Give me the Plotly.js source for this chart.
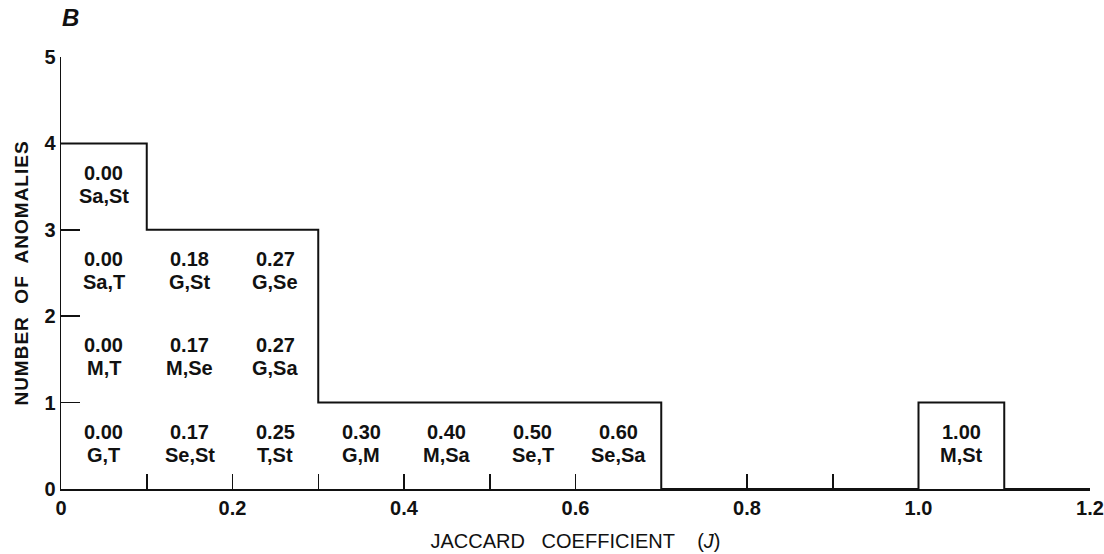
<!DOCTYPE html>
<html>
<head>
<meta charset="utf-8">
<script src="https://cdn.plot.ly/plotly-3.0.1.min.js"></script>
<style>
html,body{margin:0;padding:0;background:#fff;}
#chart{width:1104px;height:554px;}
.ytitle{letter-spacing:1px;}
</style>
</head>
<body>
<div id="chart"></div>
<script>
// Jaccard coefficients of each pair (stacked bottom-up within each 0.1 bin)
const coefLabels = ['0.00','0.00','0.00','0.00','0.17','0.17','0.18','0.25','0.27','0.27','0.30','0.40','0.50','0.60','1.00'];
const pairLabels = ['G,T','M,T','Sa,T','Sa,St','Se,St','M,Se','G,St','T,St','G,Sa','G,Se','G,M','M,Sa','Se,T','Se,Sa','M,St'];
const binWidth = 0.1;
const binEdges = [0,0.1,0.2,0.3,0.4,0.5,0.6,0.7,0.8,0.9,1.0,1.1,1.2];
const xTickVals = [0,0.1,0.2,0.3,0.4,0.5,0.6,0.7,0.8,0.9,1.0,1.1,1.2];
const xTickText = ['0','','0.2','','0.4','','0.6','','0.8','','1.0','','1.2'];
const yTickVals = [0,1,2,3,4,5];

const fontFam = 'Liberation Sans, Arial, sans-serif';
const cellFont = {family: fontFam, size: 20, color: '#111', weight: 'bold'};
const NB = '\u00A0';

// histogram counts from the coefficients
const nBins = binEdges.length - 1;
const counts = new Array(nBins).fill(0);
const annotations = [];
coefLabels.forEach((c, i) => {
  const v = parseFloat(c);
  const b = Math.min(nBins - 1, Math.floor(v / binWidth + 1e-9));
  const level = counts[b];
  counts[b] += 1;
  const cx = binEdges[b] + binWidth / 2, cy = level + 0.5;
  annotations.push({x: cx, y: cy, xref: 'x', yref: 'y', text: c, showarrow: false,
    font: cellFont, xanchor: 'center', yanchor: 'middle', yshift: 14});
  annotations.push({x: cx, y: cy, xref: 'x', yref: 'y', text: pairLabels[i], showarrow: false,
    font: cellFont, xanchor: 'center', yanchor: 'middle', yshift: -9});
});

// step outline
const stepX = binEdges.slice();
const stepY = counts.concat([counts[nBins - 1]]);

// 'B' panel letter, pixel position -> paper fractions
const pw = 1104 - 61 - 14, ph = 554 - 57 - 65;
annotations.push({
  x: (70 - 61) / pw, y: (554 - 65 - 17) / ph, xref: 'paper', yref: 'paper', showarrow: false,
  xanchor: 'center', yanchor: 'middle',
  text: '<i><b>B</b></i>', font: {family: fontFam, size: 24, color: '#111'}
});

const trace = {
  x: stepX, y: stepY, type: 'scatter', mode: 'lines',
  line: {shape: 'hv', color: '#111', width: 2},
  hoverinfo: 'skip', cliponaxis: false
};

const layout = {
  width: 1104, height: 554,
  margin: {l: 61, r: 14, t: 57, b: 65},
  paper_bgcolor: '#fff', plot_bgcolor: '#fff',
  showlegend: false,
  xaxis: {
    range: [0, 1.2], tickmode: 'array', tickvals: xTickVals, ticktext: xTickText,
    ticks: 'inside', ticklen: 15, tickwidth: 1.5, tickcolor: '#111',
    showline: true, linecolor: '#111', linewidth: 1.5, showgrid: false, zeroline: false,
    tickfont: {family: fontFam, size: 20, color: '#111', weight: 'bold'},
    title: {text: 'JACCARD' + NB + NB + NB + 'COEFFICIENT' + NB + NB + NB + NB + '(<i>J</i>)',
            font: {family: fontFam, size: 20, color: '#111'}, standoff: 16},
    fixedrange: true
  },
  yaxis: {
    range: [0, 5], tickmode: 'array', tickvals: yTickVals,
    ticks: 'inside', ticklen: 19, tickwidth: 1.5, tickcolor: '#111',
    showline: true, linecolor: '#111', linewidth: 1.5, showgrid: false, zeroline: false,
    tickfont: {family: fontFam, size: 20, color: '#111', weight: 'bold'},
    title: {text: 'NUMBER  OF  ANOMALIES', font: {family: fontFam, size: 19, color: '#111', weight: 'bold'}, standoff: 10},
    fixedrange: true
  },
  annotations: annotations
};

Plotly.newPlot('chart', [trace], layout, {displayModeBar: false, staticPlot: true});
</script>
</body>
</html>
